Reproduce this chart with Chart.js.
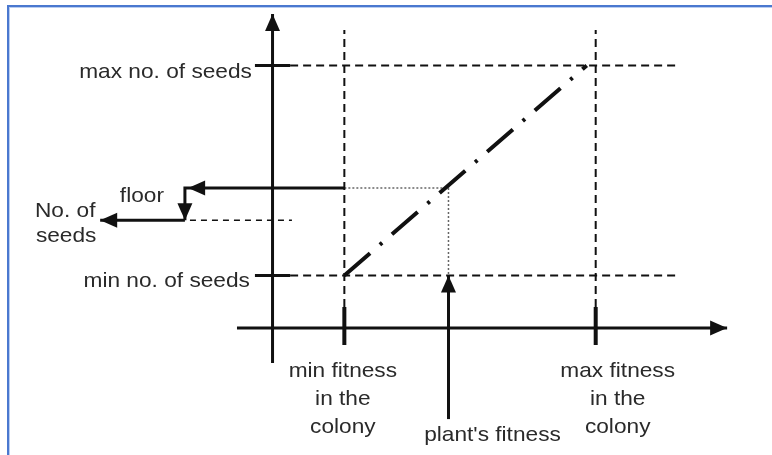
<!DOCTYPE html>
<html>
<head>
<meta charset="utf-8">
<script src="https://cdn.jsdelivr.net/npm/chart.js@4/dist/chart.umd.min.js"></script>
<style>
  html, body { margin: 0; padding: 0; background: #fff; width: 772px; height: 455px; overflow: hidden; }
  #wrap { position: relative; width: 772px; height: 455px; }
  #frame { position: absolute; left: 7px; top: 5px; right: -10px; bottom: -10px;
           border-top: 2px solid #4a78cf; border-left: 2px solid #4a78cf;
           box-shadow: inset 1px 1px 0 #b9cdf1; pointer-events: none; }
  canvas { position: absolute; left: 0; top: 0; }
</style>
</head>
<body>
<div id="wrap">
  <canvas id="c" width="772" height="455"></canvas>
  <div id="frame"></div>
</div>
<script>
// ---- data (schematic units) ----
const fitnessTicks = [2, 9];            // min fitness, max fitness in the colony
const seedTicks = [10, 2];              // max no. of seeds, min no. of seeds
const fitnessLabels = [["min fitness", "in the", "colony"], ["max fitness", "in the", "colony"]];
const seedLabels = ["max no. of seeds", "min no. of seeds"];
const mapX = [2, 8.75];                 // fitness -> seeds mapping line (dash-dot)
const mapY = [2, 10];
const plantFitness = 4.9;
const plantSeeds = 5.33;
const floorSeeds = 4.1;
const floorX = -2.44;                   // where the floor step happens (left of y axis)
const outputX = -4.8;                   // tip of the "No. of seeds" arrow
const plantLabel = "plant's fitness";
const floorLabel = "floor";
const outputLabel = ["No. of", "seeds"];

// ---- extents of drawing ----
const X_MIN = -7.59, X_MAX = 13.91, Y_MIN = -4.838, Y_MAX = 12.495;
const yAxisBottom = -1.33, yAxisTop = 11.96;
const xAxisLeft = -0.99, xAxisRight = 12.66;
const tickUp = 0.8, tickDown = -0.65, tickHalf = 0.49;
const guideTop = 11.35, guideRight = 11.27;
const plantArrowBottom = -3.47;

const BLACK = '#111';
function seg(points, width, dash, color) {
  return {
    data: points, showLine: true, pointRadius: 0, pointHoverRadius: 0,
    borderColor: color || BLACK, borderWidth: width, borderDash: dash || [],
    borderCapStyle: 'butt', fill: false, tension: 0
  };
}

const datasets = [];
// axes
datasets.push(seg([{x:0,y:yAxisBottom},{x:0,y:yAxisTop}], 3));
datasets.push(seg([{x:xAxisLeft,y:0},{x:xAxisRight,y:0}], 3));
// x ticks + vertical dashed guides
fitnessTicks.forEach(f => {
  datasets.push(seg([{x:f,y:tickUp},{x:f,y:tickDown}], 4));
  datasets.push(seg([{x:f,y:tickUp},{x:f,y:guideTop}], 2, [8,5]));
});
// y ticks + horizontal dashed guides
seedTicks.forEach(s => {
  datasets.push(seg([{x:-tickHalf,y:s},{x:tickHalf,y:s}], 3));
  datasets.push(seg([{x:tickHalf,y:s},{x:guideRight,y:s}], 2, [8,5]));
});
// mapping line
datasets.push(seg(mapX.map((x,i)=>({x, y:mapY[i]})), 4, [34,13,3,13]));
// dotted projection lines
datasets.push(seg([{x:fitnessTicks[0],y:plantSeeds},{x:plantFitness,y:plantSeeds},{x:plantFitness,y:seedTicks[1]}], 1.5, [2,2], '#666'));
// plant's fitness arrow shaft
datasets.push(seg([{x:plantFitness,y:plantArrowBottom},{x:plantFitness,y:seedTicks[1]}], 3));
// output arrow to floor step
datasets.push(seg([{x:fitnessTicks[0],y:plantSeeds},{x:floorX,y:plantSeeds},{x:floorX,y:floorSeeds}], 3));
datasets.push(seg([{x:floorX,y:floorSeeds},{x:outputX,y:floorSeeds}], 3));
// thin dashed floor level
datasets.push(seg([{x:-2.3,y:floorSeeds},{x:0.54,y:floorSeeds}], 1.5, [6,5]));

const arrows = [
  {x:0, y:yAxisTop, dir:'up'},
  {x:xAxisRight, y:0, dir:'right'},
  {x:plantFitness, y:seedTicks[1], dir:'up'},
  {x:-2.35, y:plantSeeds, dir:'left'},
  {x:floorX, y:floorSeeds, dir:'down'},
  {x:outputX, y:floorSeeds, dir:'left'}
];

const FONT = '21px "Liberation Sans", Arial, sans-serif';
const TEXT = '#2a2a2a';
function text(ctx, str, x, y, align) {
  const sx = 1.08;
  ctx.save();
  ctx.font = FONT;
  ctx.fillStyle = TEXT;
  ctx.textBaseline = 'alphabetic';
  const w = ctx.measureText(str).width * sx;
  let left = x;
  if (align === 'center') left = x - w/2;
  else if (align === 'right') left = x - w;
  ctx.translate(left, y);
  ctx.scale(sx, 1);
  ctx.textAlign = 'left';
  ctx.fillText(str, 0, 0);
  ctx.restore();
}

const diagramPlugin = {
  id: 'diagram',
  afterDatasetsDraw(chart) {
    const ctx = chart.ctx, xs = chart.scales.x, ys = chart.scales.y;
    const px = v => xs.getPixelForValue(v), py = v => ys.getPixelForValue(v);
    // arrowheads
    const L = 17, H = 7.5;
    ctx.save();
    ctx.fillStyle = BLACK;
    arrows.forEach(a => {
      const tx = px(a.x), ty = py(a.y);
      ctx.beginPath();
      if (a.dir === 'up') { ctx.moveTo(tx,ty); ctx.lineTo(tx-H,ty+L); ctx.lineTo(tx+H,ty+L); }
      if (a.dir === 'down') { ctx.moveTo(tx,ty); ctx.lineTo(tx-H,ty-L); ctx.lineTo(tx+H,ty-L); }
      if (a.dir === 'left') { ctx.moveTo(tx,ty); ctx.lineTo(tx+L,ty-H); ctx.lineTo(tx+L,ty+H); }
      if (a.dir === 'right') { ctx.moveTo(tx,ty); ctx.lineTo(tx-L,ty-H); ctx.lineTo(tx-L,ty+H); }
      ctx.closePath();
      ctx.fill();
    });
    ctx.restore();
    // labels
    const x0 = px(-tickHalf);
    text(ctx, seedLabels[0], x0 - 3, py(seedTicks[0]) + 12.5, 'right');
    text(ctx, seedLabels[1], x0 - 5, py(seedTicks[1]) + 11.5, 'right');
    const ax = py(0);
    fitnessLabels[0].forEach((s,i) => text(ctx, s, px(fitnessTicks[0]) - 1.5, ax + 49 + 28*i, 'center'));
    fitnessLabels[1].forEach((s,i) => text(ctx, s, px(fitnessTicks[1]) + 22, ax + 49 + 28*i, 'center'));
    text(ctx, plantLabel, px(plantFitness) + 44, ax + 113, 'center');
    text(ctx, floorLabel, px(floorX) - 43, py(plantSeeds) + 14, 'center');
    text(ctx, outputLabel[0], px(outputX) - 35, py(floorSeeds) - 3, 'center');
    text(ctx, outputLabel[1], px(outputX) - 34, py(floorSeeds) + 22, 'center');
  }
};

new Chart(document.getElementById('c'), {
  type: 'scatter',
  data: { datasets },
  options: {
    responsive: false,
    animation: false,
    events: [],
    layout: { padding: 0 },
    plugins: { legend: { display: false }, tooltip: { enabled: false } },
    scales: {
      x: { type: 'linear', display: false, min: X_MIN, max: X_MAX },
      y: { type: 'linear', display: false, min: Y_MIN, max: Y_MAX }
    }
  },
  plugins: [diagramPlugin]
});
</script>
</body>
</html>
